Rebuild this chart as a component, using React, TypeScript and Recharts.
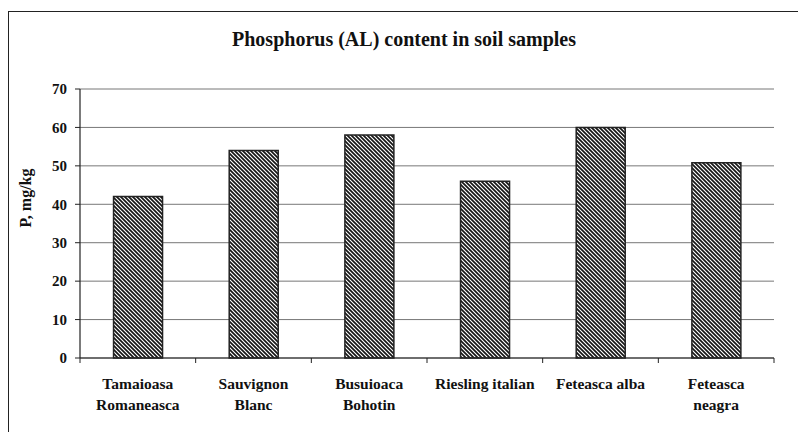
import { BarChart, Bar, XAxis, YAxis, CartesianGrid } from "recharts";

const varieties = [
  "Tamaioasa Romaneasca",
  "Sauvignon Blanc",
  "Busuioaca Bohotin",
  "Riesling italian",
  "Feteasca alba",
  "Feteasca neagra",
];
const labelLines = [
  ["Tamaioasa", "Romaneasca"],
  ["Sauvignon", "Blanc"],
  ["Busuioaca", "Bohotin"],
  ["Riesling italian"],
  ["Feteasca alba"],
  ["Feteasca", "neagra"],
];
const phosphorus = [42, 54, 58, 46, 60, 50.8];
const yTicks = [0, 10, 20, 30, 40, 50, 60, 70];

const data = varieties.map((name, i) => ({ name, p: phosphorus[i] }));

const serif = "'Liberation Serif', 'Times New Roman', serif";

// category label plus the small tick marks at the band edges
function CategoryTick(props: any) {
  const { x, y, payload, index } = props;
  const half = payload.offset || 0;
  const lines = labelLines[payload.index ?? index] || [payload.value];
  const last = (payload.index ?? index) === varieties.length - 1;
  return (
    <g>
      <line x1={x - half} x2={x - half} y1={y} y2={y + 5} stroke="#222" />
      {last && (
        <line x1={x + half} x2={x + half} y1={y} y2={y + 5} stroke="#222" />
      )}
      <text
        x={x}
        y={y}
        textAnchor="middle"
        fontFamily={serif}
        fontWeight="bold"
        fontSize={15.5}
        fill="#111"
      >
        {lines.map((l: string, i: number) => (
          <tspan key={i} x={x} dy={i === 0 ? 31 : 21}>
            {l}
          </tspan>
        ))}
      </text>
    </g>
  );
}

export default function App() {
  return (
    <div
      style={{
        position: "fixed",
        left: 0,
        top: 0,
        width: 798,
        height: 432,
        background: "#fff",
        overflow: "hidden",
      }}
    >
      <div
        style={{
          position: "absolute",
          left: 8,
          top: 11,
          width: 800,
          height: 440,
          border: "1.5px solid #222",
          boxSizing: "border-box",
        }}
      />
      <div
        style={{
          position: "absolute",
          left: 0,
          width: 808,
          top: 28,
          textAlign: "center",
          fontFamily: serif,
          fontWeight: "bold",
          fontSize: 20,
          color: "#111",
        }}
      >
        Phosphorus (AL) content in soil samples
      </div>
      <div
        style={{
          position: "absolute",
          left: 26,
          top: 198,
          transform: "translate(-50%, -50%) rotate(-90deg)",
          whiteSpace: "nowrap",
          fontFamily: serif,
          fontWeight: "bold",
          fontSize: 16,
          color: "#111",
        }}
      >
        P, mg/kg
      </div>
      <BarChart
        width={798}
        height={432}
        data={data}
        margin={{ top: 89, right: 24, bottom: 14, left: 20 }}
        barCategoryGap="29%"
        style={{ position: "absolute", left: 0, top: 0 }}
      >
        <defs>
          <pattern
            id="hatch"
            patternUnits="userSpaceOnUse"
            width="4"
            height="4"
          >
            <rect width="4" height="4" fill="#fff" />
            <path
              d="M-1,-1 L5,5 M-1,3 L1,5 M3,-1 L5,1"
              stroke="#151515"
              strokeWidth="1.7"
            />
          </pattern>
        </defs>
        <CartesianGrid vertical={false} stroke="#777" strokeWidth={1} />
        <XAxis
          dataKey="name"
          height={60}
          interval={0}
          tick={<CategoryTick />}
          tickLine={false}
          tickSize={0}
          tickMargin={0}
          axisLine={{ stroke: "#222", strokeWidth: 1.2 }}
        />
        <YAxis
          width={60}
          domain={[0, 70]}
          ticks={yTicks}
          interval={0}
          tickSize={5}
          tickMargin={8}
          tick={{
            fontFamily: serif,
            fontWeight: "bold",
            fontSize: 15,
            fill: "#111",
          }}
          tickLine={{ stroke: "#222" }}
          axisLine={{ stroke: "#222", strokeWidth: 1.2 }}
        />
        <Bar
          dataKey="p"
          fill="url(#hatch)"
          stroke="#222"
          strokeWidth={1.5}
          isAnimationActive={false}
        />
      </BarChart>
    </div>
  );
}
